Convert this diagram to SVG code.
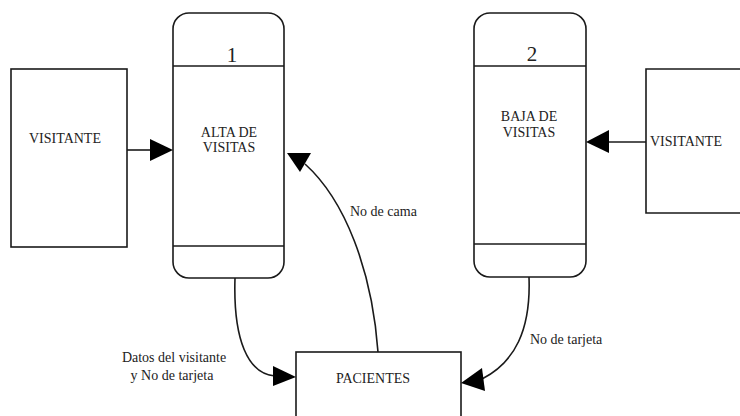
<svg xmlns="http://www.w3.org/2000/svg" width="740" height="416" viewBox="0 0 740 416">
<style>
.box{fill:#fff;stroke:#1a1a1a;stroke-width:1.6}
.ln{fill:none;stroke:#1a1a1a;stroke-width:1.6}
.ah{fill:#000}
.t{font-family:"Liberation Serif","Times New Roman",serif;font-size:14px;fill:#222;text-anchor:middle}
.num{font-family:"Liberation Serif","Times New Roman",serif;font-size:21px;fill:#222;text-anchor:middle}
.lab{font-family:"Liberation Serif","Times New Roman",serif;font-size:14px;fill:#222}
</style>
<rect width="740" height="416" fill="#fff"/>
<g id="visitante1">
<rect class="box" x="11" y="69" width="116" height="178"/>
<text class="t" x="65" y="143">VISITANTE</text>
</g>
<g id="proceso1">
<rect class="box" x="173" y="13" width="111" height="265" rx="16"/>
<line class="ln" x1="173" y1="66" x2="284" y2="66"/>
<line class="ln" x1="173" y1="246" x2="284" y2="246"/>
<text class="num" x="232" y="62">1</text>
<text class="t" x="229" y="137">ALTA DE</text>
<text class="t" x="229" y="152">VISITAS</text>
</g>
<g id="proceso2">
<rect class="box" x="474" y="13" width="112" height="264" rx="16"/>
<line class="ln" x1="474" y1="66" x2="586" y2="66"/>
<line class="ln" x1="474" y1="244" x2="586" y2="244"/>
<text class="num" x="532" y="61">2</text>
<text class="t" x="529" y="121">BAJA DE</text>
<text class="t" x="529" y="137">VISITAS</text>
</g>
<g id="visitante2">
<path class="box" d="M742,69 H646 V213 H742"/>
<text class="lab" x="650" y="146">VISITANTE</text>
</g>
<g id="pacientes">
<rect class="box" x="296" y="352" width="165" height="70"/>
<text class="t" x="373" y="383">PACIENTES</text>
</g>
<g id="connectors">
<line class="ln" x1="127" y1="150" x2="151" y2="150"/>
<polygon class="ah" points="150,139 150,161 173,150"/>
<line class="ln" x1="646" y1="142" x2="608" y2="142"/>
<polygon class="ah" points="586,142 609,130 609,153"/>
<path class="ln" d="M235,278 C233,340 248,374 275,376"/>
<polygon class="ah" points="273,366 273,386 296,377"/>
<path class="ln" d="M378,352 C372,270 345,200 305,164"/>
<polygon class="ah" points="287,153 311,153 300,172"/>
<path class="ln" d="M529,277 C531,330 515,362 482,379"/>
<polygon class="ah" points="461,383 482,368 485,391"/>
<text class="lab" x="350" y="216">No de cama</text>
<text class="lab" x="174" y="362" text-anchor="middle">Datos del visitante</text>
<text class="lab" x="172" y="380" text-anchor="middle">y No de tarjeta</text>
<text class="lab" x="530" y="344">No de tarjeta</text>
</g>
</svg>
